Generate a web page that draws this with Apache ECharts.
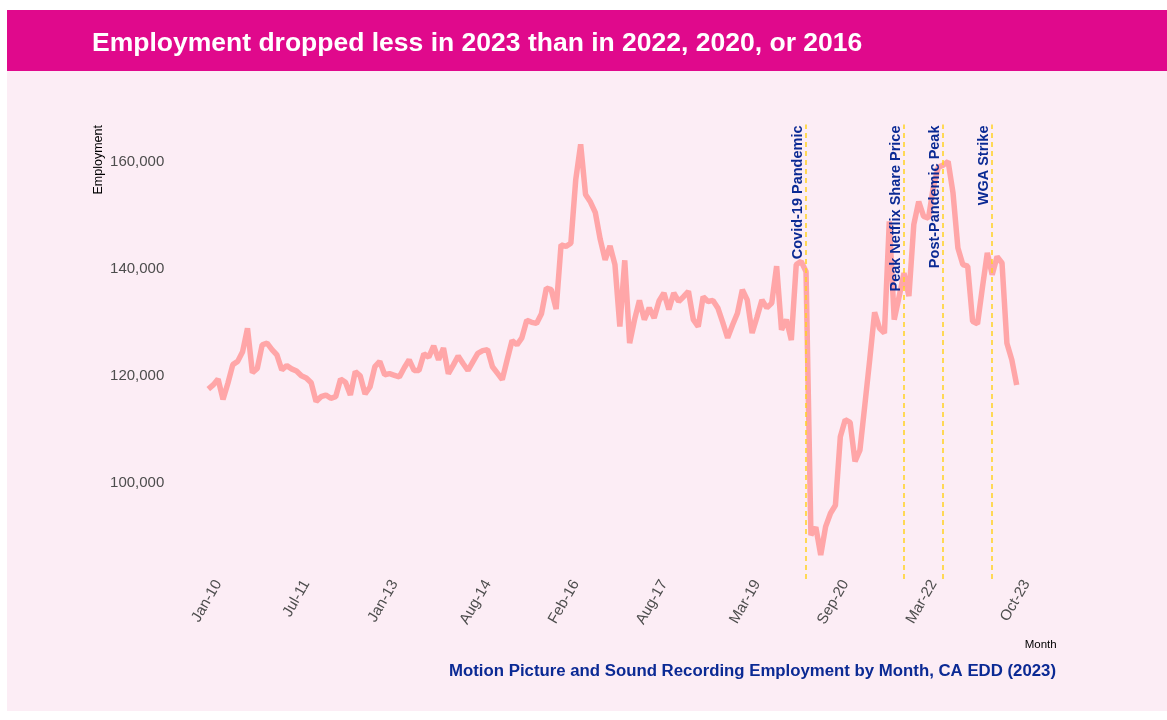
<!DOCTYPE html>
<html>
<head>
<meta charset="utf-8">
<script src="https://cdn.jsdelivr.net/npm/echarts@6/dist/echarts.min.js"></script>
<style>
  html, body { margin: 0; padding: 0; background: #fff; }
  #chart { width: 1167px; height: 720px; }
</style>
</head>
<body>
<div id="chart"></div>
<script>
// month labels, Jan-10 .. Oct-23
const monthNames = ['Jan', 'Feb', 'Mar', 'Apr', 'May', 'Jun', 'Jul', 'Aug', 'Sep', 'Oct', 'Nov', 'Dec'];
const firstYear = 2010;
const monthCount = 166;

// shown tick labels
const xTicks = ['Jan-10', 'Jul-11', 'Jan-13', 'Aug-14', 'Feb-16', 'Aug-17', 'Mar-19', 'Sep-20', 'Mar-22', 'Oct-23'];
const yTicks = [100000, 120000, 140000, 160000];

// Motion picture & sound recording employment, CA EDD
const employment = [
  117500, 118300, 119400, 115600, 118600, 122100, 122700, 124500, 128900, 120600,
  121400, 125800, 126100, 124900, 123900, 121100, 121900, 121300, 120900, 120000,
  119600, 118700, 115200, 116100, 116400, 115800, 116100, 119400, 118800, 116400,
  120800, 120000, 116600, 117900, 121700, 122700, 120200, 120400, 120100, 119800,
  121500, 123000, 121000, 121000, 124100, 123500, 125600, 123000, 125200, 120400,
  122000, 123700, 122300, 121000, 122600, 124200, 124700, 124900, 121700, 120500,
  119300, 123000, 126600, 125800, 127100, 130400, 130000, 129800, 131600, 136400,
  136100, 132500, 144500, 144200, 144800, 156700, 163300, 153900, 152500, 150500,
  145500, 141700, 144300, 140800, 129200, 141600, 126100, 130500, 134100, 130500,
  132700, 130800, 134000, 135500, 132400, 135500, 133900, 134800, 135800, 130500,
  129200, 134800, 133900, 134100, 132700, 130000, 127100, 129500, 131700, 136100,
  134200, 128000, 131000, 134200, 132700, 133600, 140500, 128600, 130500, 126700,
  140800, 141400, 139500, 90200, 91700, 86500, 91800, 94300, 95800, 108600,
  111800, 111300, 104000, 106100, 114500, 123000, 131900, 128900, 128000, 148900,
  130500, 134800, 139200, 134900, 148300, 152600, 149800, 149500, 155400, 159000,
  159400, 160100, 154200, 143900, 140800, 140500, 130200, 129700, 136500, 143000,
  138900, 142300, 141100, 126100, 123000, 118300
];

// annotations
const eventNames = ['Covid-19 Pandemic', 'Peak Netflix Share Price', 'Post-Pandemic Peak', 'WGA Strike'];
const eventMonths = ['Mar-20', 'Nov-21', 'Jul-22', 'May-23'];

const months = [];
for (let i = 0; i < monthCount; i++) {
  const yy = String((firstYear + Math.floor(i / 12)) % 100).padStart(2, '0');
  months.push(monthNames[i % 12] + '-' + yy);
}

const navy = '#0b2a94';
const chart = echarts.init(document.getElementById('chart'));

chart.setOption({
  backgroundColor: '#ffffff',
  animation: false,
  graphic: [
    { type: 'rect', left: 7, top: 10, z: -10, shape: { width: 1160, height: 701 }, style: { fill: '#fcedf5' } },
    { type: 'rect', left: 7, top: 10, z: -9, shape: { width: 1160, height: 61 }, style: { fill: '#e0098c' } },
    {
      type: 'text', x: 99, y: 125, rotation: Math.PI / 2,
      style: { text: 'Employment', fill: '#000', font: '12.5px "Liberation Sans", sans-serif', textAlign: 'right', textVerticalAlign: 'middle' }
    }
  ],
  title: [
    {
      text: 'Employment dropped less in 2023 than in 2022, 2020, or 2016',
      left: 87, top: 25,
      textStyle: { color: '#fff', fontSize: 26.5, fontWeight: 'bold', fontFamily: 'Liberation Sans' }
    },
    {
      text: 'Motion Picture and Sound Recording Employment by Month, CA EDD (2023)',
      right: 106, top: 658,
      textStyle: { color: navy, fontSize: 16.8, fontWeight: 'bold', fontFamily: 'Liberation Sans' }
    }
  ],
  grid: { left: 208.3, right: 150.3, top: 124.5, bottom: 141, containLabel: false },
  xAxis: {
    type: 'category',
    data: months,
    boundaryGap: false,
    name: 'Month',
    nameLocation: 'end',
    nameGap: 40,
    nameTextStyle: {
      color: '#000', fontSize: 11.5, fontFamily: 'Liberation Sans',
      align: 'right', verticalAlign: 'top', padding: [60, 0, 0, 0]
    },
    axisLine: { show: false },
    axisTick: { show: false },
    splitLine: { show: false },
    axisLabel: {
      interval: (idx, val) => xTicks.includes(val),
      rotate: 60,
      margin: -3.5,
      align: 'right',
      verticalAlign: 'top',
      padding: [4, 0, 0, 0],
      color: '#4d4d4d',
      fontSize: 15,
      fontFamily: 'Liberation Sans'
    }
  },
  yAxis: {
    type: 'value',
    min: 82000,
    max: 167000,
    axisLine: { show: false },
    axisTick: { show: false },
    splitLine: { show: false },
    axisLabel: {
      customValues: yTicks,
      margin: 44,
      color: '#4d4d4d',
      fontSize: 15,
      fontFamily: 'Liberation Sans',
      formatter: v => v.toLocaleString('en-US')
    }
  },
  series: [{
    type: 'line',
    data: employment,
    showSymbol: false,
    lineStyle: { color: '#ffa6a8', width: 5.5 },
    markLine: {
      silent: true,
      symbol: 'none',
      lineStyle: { color: '#ffd21f', type: [5, 4], width: 1.5 },
      label: {
        show: true,
        position: 'insideEndTop',
        distance: 1,
        formatter: p => p.name,
        color: navy,
        fontSize: 14.5,
        fontWeight: 'bold',
        fontFamily: 'Liberation Sans'
      },
      data: eventMonths.map((m, i) => ({ name: eventNames[i], xAxis: m }))
    }
  }]
});
</script>
</body>
</html>
